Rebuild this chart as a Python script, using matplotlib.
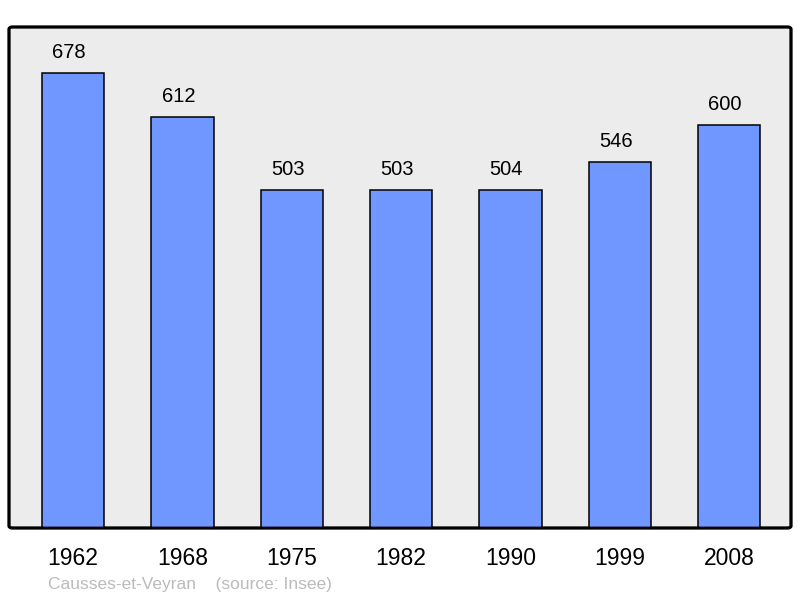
import matplotlib
matplotlib.use("Agg")
import matplotlib.pyplot as plt
from matplotlib.patches import FancyBboxPatch

years = ["1962", "1968", "1975", "1982", "1990", "1999", "2008"]
population = [678, 612, 503, 503, 504, 546, 600]

plt.rcParams['font.family'] = ['Liberation Sans', 'DejaVu Sans']

fig = plt.figure(figsize=(8, 5.98), dpi=100)
ax = fig.add_axes([9/800, 70/598, 782/800, 501/598])
ax.set_facecolor('none')

x = list(range(len(years)))
ax.bar(x, population, width=0.57, color='#7097ff', edgecolor='black', linewidth=1.1, zorder=3)
for xi, v in zip(x, population):
    ax.annotate(str(v), (xi, v), xytext=(-2.9, 10.8), textcoords='offset points',
                ha='center', va='baseline', fontsize=14.5, color='black')

ax.set_xlim(-0.585, 6.565)
ax.set_ylim(0, 746.5)
ax.set_xticks(x)
ax.set_xticklabels(years, fontsize=16.5)
ax.tick_params(axis='x', length=0, pad=14)
ax.set_yticks([])
for s in ax.spines.values():
    s.set_visible(False)

frame = FancyBboxPatch((0, 0), 1, 1, boxstyle="round,pad=0,rounding_size=0.004",
                       transform=ax.transAxes, facecolor='#ececec', edgecolor='black',
                       linewidth=2, zorder=0, clip_on=False)
ax.add_patch(frame)
frame2 = FancyBboxPatch((0, 0), 1, 1, boxstyle="round,pad=0,rounding_size=0.004",
                        transform=ax.transAxes, facecolor='none', edgecolor='black',
                        linewidth=2, zorder=5, clip_on=False)
ax.add_patch(frame2)

fig.text(48/800, 1 - 584/598, "Causses-et-Veyran    (source: Insee)", fontsize=12.5,
         color='#bbbbbb', ha='left', va='center')

fig.savefig("out.png", dpi=100)
